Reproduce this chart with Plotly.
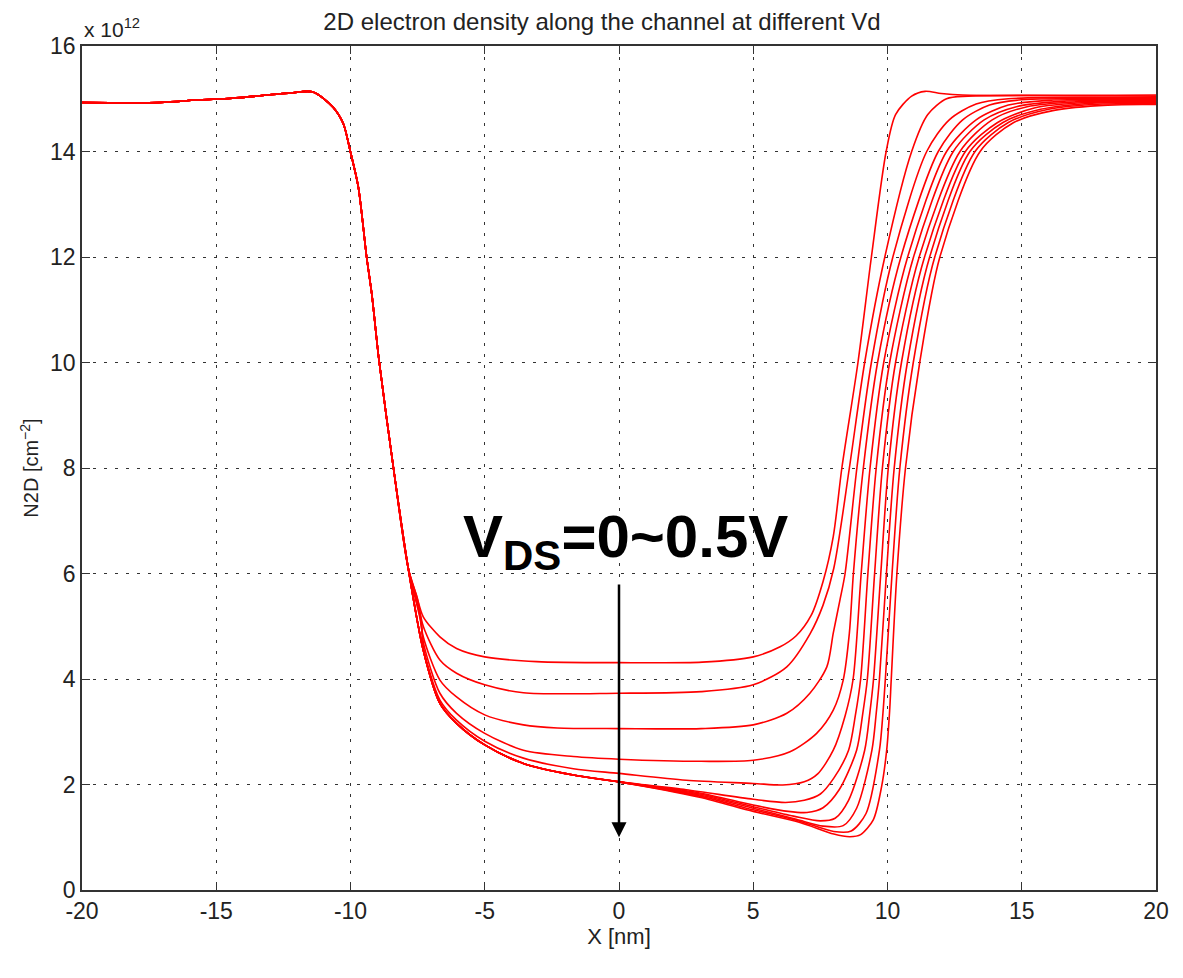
import plotly.graph_objects as go

# ---------------- data ----------------
VD_LABELS = ["0", "0.05", "0.1", "0.15", "0.2", "0.25", "0.3", "0.35", "0.4", "0.45", "0.5"]

# common source-side part (all curves overlap here), y in units of 1e12 cm^-2
SRC_X = [-20, -17.1, -15.6, -14.4, -12.25, -11.4, -10.65, -10.27, -10.02, -9.71, -9.40, -9.21, -8.94, -8.40, -7.85]
SRC_Y = [14.93, 14.93, 14.98, 15.01, 15.11, 15.13, 14.84, 14.53, 14.03, 13.33, 12.0, 11.31, 10.05, 8.0, 6.1]

# shared channel part of the highest-Vd bundle
BUNDLE_X = [-7.29, -6.67, -6.05, -5.0, -3.56, -1.7, 0.0]
BUNDLE_Y = [4.55, 3.54, 3.16, 2.75, 2.40, 2.18, 2.05]

C0_X = [-7.55, -7.29, -6.67, -6.05, -5.0, -3.07, 0.0, 3.1, 5.0, 6.0, 6.6, 7.15, 7.6, 7.98, 8.3, 8.9, 9.4, 9.95, 10.3, 10.9, 11.4, 12.0, 12.8, 20]
C0_Y = [5.6, 5.18, 4.80, 4.58, 4.42, 4.33, 4.31, 4.32, 4.42, 4.61, 4.82, 5.2, 5.85, 6.7, 8.0, 10.0, 12.0, 14.0, 14.7, 15.05, 15.14, 15.10, 15.07, 15.07]

C1_X = [-7.5, -7.29, -6.67, -6.05, -5.0, -3.56, 0.0, 3.06, 5.0, 6.25, 7.11, 7.6, 8.0, 8.58, 9.15, 9.9, 10.9, 11.5, 12.2, 13.0, 20]
C1_Y = [5.5, 5.0, 4.36, 4.11, 3.89, 3.74, 3.73, 3.76, 3.89, 4.23, 4.85, 5.4, 6.1, 8.0, 10.0, 12.0, 14.0, 14.7, 15.0, 15.05, 15.05]

C2_X = [-7.45, -7.29, -6.67, -6.05, -5.0, -3.56, -2.3, 0.0, 3.06, 5.0, 6.25, 7.11, 7.74, 7.98, 8.23, 8.42, 8.86, 9.4, 10.2, 11.46, 12.3, 13.3, 14.5, 20]
C2_Y = [5.3, 4.8, 3.98, 3.66, 3.32, 3.13, 3.07, 3.06, 3.06, 3.13, 3.35, 3.73, 4.23, 4.87, 5.5, 6.0, 8.0, 10.0, 12.0, 14.0, 14.6, 14.9, 15.0, 15.02]

C3_X = [-7.4, -7.29, -6.67, -6.05, -5.0, -3.56, -1.7, 0.0, 3.06, 5.0, 6.37, 7.36, 7.98, 8.35, 8.58, 8.73, 9.1, 9.63, 10.5, 11.89, 12.8, 13.8, 15.0, 20]
C3_Y = [5.2, 4.7, 3.73, 3.35, 2.97, 2.65, 2.53, 2.48, 2.44, 2.46, 2.62, 2.97, 3.41, 3.98, 4.87, 6.0, 8.0, 10.0, 12.0, 14.0, 14.6, 14.88, 14.98, 15.0]

C4_X = [-7.35, -7.29, -6.67, -6.05, -5.0, -3.56, -1.7, 0.0, 2.5, 5.0, 6.1, 6.9, 7.4, 7.98, 8.42, 8.72, 9.02, 9.35, 9.86, 10.75, 12.2, 13.3, 14.5, 16.0, 20]
C4_Y = [5.0, 4.6, 3.6, 3.22, 2.82, 2.5, 2.3, 2.21, 2.08, 2.02, 1.99, 2.05, 2.2, 2.65, 3.3, 4.0, 6.0, 8.0, 10.0, 12.0, 14.0, 14.6, 14.88, 14.97, 14.99]

C5_X = [2.5, 5.0, 6.2, 6.9, 7.5, 8.0, 8.55, 8.8, 9.0, 9.27, 9.58, 10.08, 10.97, 12.45, 13.6, 14.8, 16.5, 20]
C5_Y = [1.90, 1.72, 1.66, 1.70, 1.82, 2.12, 2.65, 3.3, 4.0, 6.0, 8.0, 10.0, 12.0, 14.0, 14.6, 14.85, 14.95, 14.97]

C6_X = [3.0, 5.0, 6.3, 7.0, 7.6, 8.2, 8.85, 9.08, 9.25, 9.52, 9.81, 10.3, 11.18, 12.7, 13.9, 15.2, 17.0, 20]
C6_Y = [1.84, 1.61, 1.49, 1.47, 1.56, 1.90, 2.65, 3.35, 4.0, 6.0, 8.0, 10.0, 12.0, 14.0, 14.6, 14.85, 14.94, 14.96]

C7_X = [3.0, 5.0, 6.5, 7.5, 8.05, 8.55, 9.15, 9.34, 9.48, 9.75, 10.03, 10.52, 11.38, 12.9, 14.1, 15.5, 17.5, 20]
C7_Y = [1.82, 1.58, 1.40, 1.31, 1.36, 1.70, 2.65, 3.35, 4.0, 6.0, 8.0, 10.0, 12.0, 14.0, 14.55, 14.83, 14.93, 14.95]

C8_X = [3.0, 5.0, 6.6, 7.6, 8.35, 8.85, 9.42, 9.58, 9.7, 9.96, 10.25, 10.74, 11.57, 13.07, 14.3, 15.7, 17.8, 20]
C8_Y = [1.80, 1.55, 1.34, 1.21, 1.22, 1.55, 2.65, 3.35, 4.0, 6.0, 8.0, 10.0, 12.0, 14.0, 14.55, 14.8, 14.92, 14.93]

C9_X = [3.0, 5.0, 6.7, 8.0, 8.65, 9.2, 9.7, 9.83, 9.92, 10.17, 10.46, 10.96, 11.76, 13.26, 14.5, 16.0, 18.0, 20]
C9_Y = [1.78, 1.52, 1.31, 1.11, 1.12, 1.45, 2.65, 3.35, 4.0, 6.0, 8.0, 10.0, 12.0, 14.0, 14.55, 14.8, 14.9, 14.91]

C10_X = [3.0, 5.0, 6.74, 8.0, 8.6, 9.0, 9.47, 9.78, 9.97, 10.08, 10.14, 10.35, 10.67, 11.2, 11.95, 13.45, 14.7, 16.2, 18.2, 20]
C10_Y = [1.76, 1.49, 1.28, 1.06, 1.01, 1.05, 1.33, 1.96, 2.65, 3.4, 4.0, 6.0, 8.0, 10.0, 12.0, 14.0, 14.55, 14.78, 14.88, 14.89]

X_TICKS = [-20, -15, -10, -5, 0, 5, 10, 15, 20]
X_TICKTEXT = ["-20", "-15", "-10", "-5", "0", "5", "10", "15", "20"]
Y_TICKS = [0, 2, 4, 6, 8, 10, 12, 14, 16]

OWN = [(C0_X, C0_Y), (C1_X, C1_Y), (C2_X, C2_Y), (C3_X, C3_Y), (C4_X, C4_Y)]
BUNDLED = [(C5_X, C5_Y), (C6_X, C6_Y), (C7_X, C7_Y), (C8_X, C8_Y), (C9_X, C9_Y), (C10_X, C10_Y)]

fig = go.Figure()
curves = []
for cx, cy in OWN:
    curves.append((SRC_X + cx, SRC_Y + cy))
for cx, cy in BUNDLED:
    curves.append((SRC_X + BUNDLE_X + cx, SRC_Y + BUNDLE_Y + cy))

for lab, (xs, ys) in zip(VD_LABELS, curves):
    fig.add_trace(go.Scatter(
        x=xs, y=[v * 1e12 for v in ys], mode="lines", name="Vd=" + lab,
        line=dict(color="#ff0000", width=1.6, shape="spline", smoothing=0.8),
        showlegend=False, hoverinfo="skip"))

FONT = "Liberation Sans, Arial, sans-serif"
GRID = dict(showgrid=True, gridcolor="#333333", griddash="3px,8px", gridwidth=1.2)
fig.update_layout(
    width=1183, height=978,
    paper_bgcolor="white", plot_bgcolor="white",
    margin=dict(l=74, r=35, t=38, b=96, autoexpand=False),
    font=dict(family=FONT, color="#222222", size=21),
    title=dict(text="2D electron density along the channel at different Vd",
               x=594 / 1183, xanchor="center", y=1 - 14 / 978, yanchor="middle",
               font=dict(size=24, family=FONT, color="#222222")),
)
fig.update_xaxes(
    range=[-20, 20], tickvals=X_TICKS, ticktext=X_TICKTEXT,
    ticks="inside", ticklen=8, tickcolor="#333", showline=True, linecolor="#333",
    linewidth=1.6, mirror="ticks", zeroline=False, tickfont=dict(size=23),
    title=dict(text="X [nm]", font=dict(size=22), standoff=2), **GRID)
fig.update_yaxes(
    range=[0, 16e12], tickvals=[v * 1e12 for v in Y_TICKS], ticktext=[str(v) for v in Y_TICKS],
    ticks="inside", ticklen=8, tickcolor="#333", showline=True, linecolor="#333",
    linewidth=1.6, mirror="ticks", zeroline=False, tickfont=dict(size=23),
    title=dict(text="N2D [cm<sup>−2</sup>]", font=dict(size=20), standoff=6), **GRID)

fig.add_annotation(xref="paper", yref="paper", x=0.0, y=1.0, xanchor="left", yanchor="bottom",
                   text="x 10<sup>12</sup>", showarrow=False, font=dict(size=21), yshift=3)

fig.add_annotation(x=0, y=1.0e12, ax=0, ay=5.82e12, axref="x", ayref="y", xref="x", yref="y",
                   text="", showarrow=True, arrowhead=2, arrowsize=1.2, arrowwidth=2.5,
                   arrowcolor="black")
fig.add_annotation(x=0.26, y=6.62e12, xref="x", yref="y", showarrow=False,
                   text="<b>V<sub>DS</sub>=0~0.5V</b>",
                   font=dict(size=60, family=FONT, color="black"))

fig.write_html("out.html")
